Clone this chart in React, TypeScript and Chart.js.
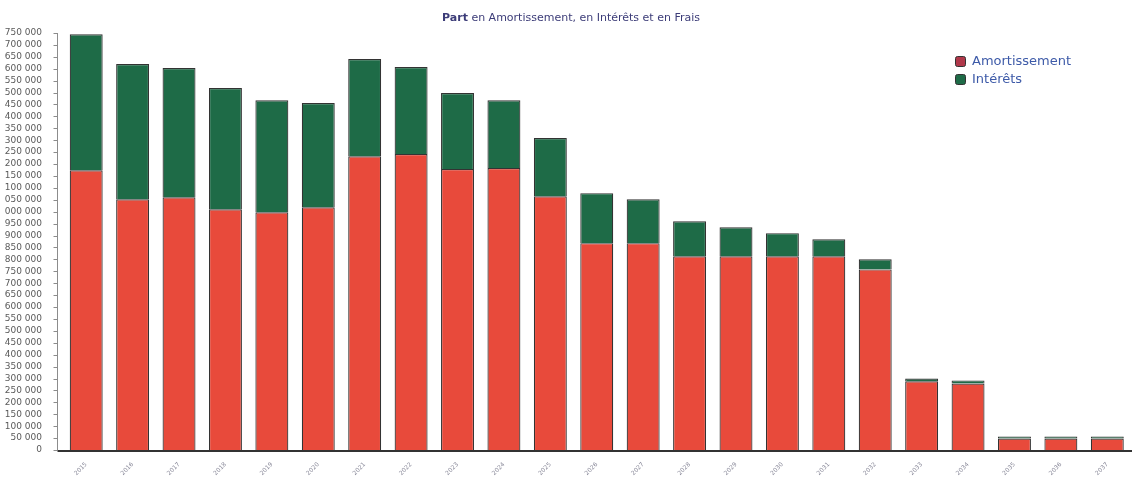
import React, { useEffect, useRef } from 'react';
import { Chart, registerables } from 'chart.js';

Chart.register(...registerables);

const years = [
  '2015', '2016', '2017', '2018', '2019', '2020', '2021', '2022', '2023', '2024', '2025', '2026',
  '2027', '2028', '2029', '2030', '2031', '2032', '2033', '2034', '2035', '2036', '2037',
];

const amortissement = [
  1174000, 1052000, 1061000, 1010000, 998000, 1019000, 1233000, 1242000, 1179000, 1183000, 1065000, 868000,
  868000, 813000, 813000, 813000, 813000, 758000, 288000, 279000, 48000, 48000, 48000,
];

const interets = [
  571000, 568000, 542000, 509000, 470000, 437000, 408000, 365000, 319000, 285000, 244000, 210000,
  184000, 147000, 122000, 97000, 71000, 42000, 12000, 13000, 9000, 9000, 9000,
];

const yMax = 1750000;
const yStep = 50000;

const titleBold = 'Part';
const titleRest = ' en Amortissement, en Intérêts et en Frais';

const legendItems = [
  { label: 'Amortissement', color: '#b0384a' },
  { label: 'Intérêts', color: '#1e6b47' },
];

function fmtTick(v: number): string {
  const s = String(Math.round(v)).replace(/\B(?=(\d{3})+(?!\d))/g, ' ');
  return s.length > 7 ? s.slice(-7) : s;
}

export default function App() {
  const ref = useRef<HTMLCanvasElement>(null);

  useEffect(() => {
    document.body.style.margin = '0';
    const overlay = {
      id: 'overlay',
      afterDraw(chart: any) {
        const ctx = chart.ctx as CanvasRenderingContext2D;
        const area = chart.chartArea;
        const ys = chart.scales.y;
        ctx.save();
        // Y axis line and tick marks
        const axX = 57.5;
        ctx.strokeStyle = '#8c8c8c';
        ctx.lineWidth = 1;
        ctx.beginPath();
        ctx.moveTo(axX, area.top);
        ctx.lineTo(axX, area.bottom);
        ys.ticks.forEach((t: any) => {
          const y = Math.round(ys.getPixelForValue(t.value)) + 0.5;
          ctx.moveTo(axX - 4, y);
          ctx.lineTo(axX, y);
        });
        ctx.stroke();
        // X axis line
        ctx.strokeStyle = '#333';
        ctx.lineWidth = 2;
        ctx.beginPath();
        ctx.moveTo(axX, area.bottom + 1);
        ctx.lineTo(1132, area.bottom + 1);
        ctx.stroke();
        // Title
        ctx.textBaseline = 'middle';
        ctx.fillStyle = '#3c3c78';
        ctx.font = 'bold 11px "DejaVu Sans", sans-serif';
        const wb = ctx.measureText(titleBold).width;
        ctx.font = '11px "DejaVu Sans", sans-serif';
        const wr = ctx.measureText(titleRest).width;
        const x0 = 571 - (wb + wr) / 2;
        ctx.font = 'bold 11px "DejaVu Sans", sans-serif';
        ctx.textAlign = 'left';
        ctx.fillText(titleBold, x0, 18);
        ctx.font = '11px "DejaVu Sans", sans-serif';
        ctx.fillText(titleRest, x0 + wb, 18);
        // Legend
        legendItems.forEach((it, i) => {
          const y = 62 + i * 18;
          ctx.fillStyle = it.color;
          ctx.strokeStyle = '#333';
          ctx.lineWidth = 1;
          ctx.beginPath();
          (ctx as any).roundRect ? (ctx as any).roundRect(955.5, y - 5.5, 10, 10, 2) : ctx.rect(955.5, y - 5.5, 10, 10);
          ctx.fill();
          ctx.stroke();
          ctx.fillStyle = '#3d5aa8';
          ctx.font = '13px "DejaVu Sans", sans-serif';
          ctx.fillText(it.label, 972, y);
        });
        ctx.restore();
      },
    };

    const chart = new Chart(ref.current as HTMLCanvasElement, {
      type: 'bar',
      data: {
        labels: years,
        datasets: [
          {
            label: 'Amortissement',
            data: amortissement,
            backgroundColor: '#e84a3b',
            borderColor: '#333',
            borderWidth: 1.2,
            barPercentage: 0.71,
            categoryPercentage: 1,
          },
          {
            label: 'Intérêts',
            data: interets,
            backgroundColor: '#1e6b47',
            borderColor: '#333',
            borderWidth: 1.2,
            barPercentage: 0.71,
            categoryPercentage: 1,
          },
        ],
      },
      options: {
        responsive: false,
        animation: false,
        layout: { padding: { top: 33, right: 1.5, left: 0, bottom: 0 } },
        plugins: {
          legend: { display: false },
          title: { display: false },
          tooltip: { enabled: false },
        },
        scales: {
          x: {
            stacked: true,
            grid: { display: false },
            border: { display: false },
            ticks: {
              minRotation: 45,
              maxRotation: 45,
              autoSkip: false,
              padding: 3,
              font: { size: 6, family: '"DejaVu Sans", sans-serif' },
              color: '#8a8a9a',
            },
            afterFit(s: any) {
              s.height = 27;
            },
          },
          y: {
            stacked: true,
            min: 0,
            max: yMax,
            ticks: {
              stepSize: yStep,
              autoSkip: false,
              font: { size: 9, family: '"DejaVu Sans", sans-serif' },
              color: '#5a5a5a',
              padding: 13,
              callback: (v: any) => fmtTick(Number(v)),
            },
            grid: { display: false },
            border: { display: false },
            afterFit(s: any) {
              s.width = 63;
            },
          },
        },
      },
      plugins: [overlay],
    });
    return () => chart.destroy();
  }, []);

  return <canvas ref={ref} width={1132} height={477} style={{ display: 'block' }} />;
}
